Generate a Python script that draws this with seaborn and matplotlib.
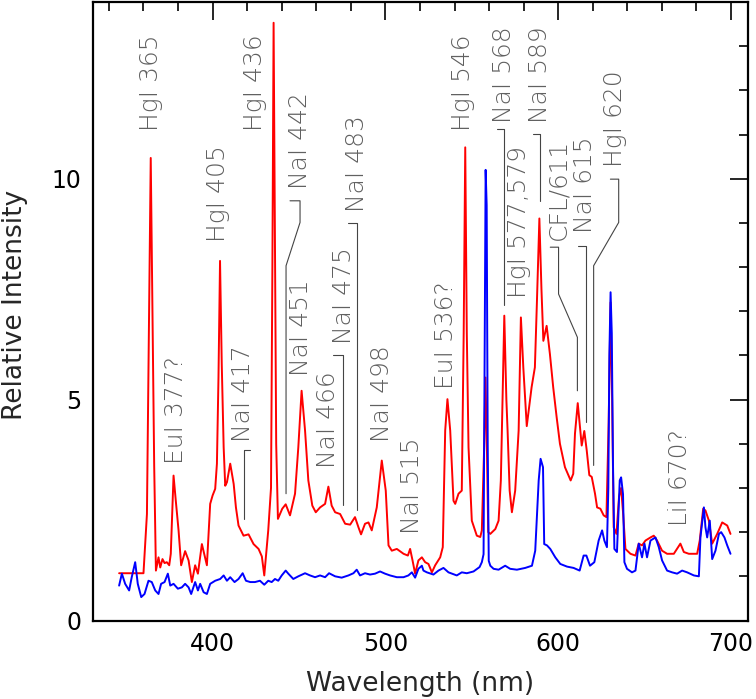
## load packages
import pandas as pd
import matplotlib
matplotlib.use("Agg")
import matplotlib.pyplot as plt
from matplotlib.ticker import MultipleLocator
import seaborn as sns

## spectrum data
red_wl = [345.9, 360.0, 361.0, 362.0, 363.0, 364.2, 365.2, 366.2, 367.2, 368.7,
          369.7, 371.0, 372.2, 373.5, 374.9, 375.8, 377.4, 378.7, 380.3, 381.8,
          384.1, 386.1, 388.0, 389.9, 391.5, 393.8, 395.2, 396.7, 398.6, 400.0,
          401.5, 402.5, 403.4, 404.3, 405.3, 406.4, 407.3, 408.3, 410.2, 412.2,
          413.5, 415.0, 417.9, 420.8, 423.7, 426.6, 428.5, 429.9, 431.0, 432.2,
          433.8, 434.6, 435.3, 436.0, 436.8, 437.8, 440.3, 442.3, 444.8, 447.7,
          449.6, 451.5, 453.5, 455.4, 457.7, 459.7, 462.2, 465.1, 467.0, 468.9,
          470.9, 473.8, 476.7, 479.6, 482.4, 484.4, 485.9, 488.2, 490.2, 492.1,
          495.0, 497.9, 500.2, 501.8, 503.7, 506.6, 510.5, 513.0, 514.3, 515.7,
          517.2, 519.1, 521.1, 523.0, 524.9, 526.9, 528.8, 531.7, 533.2, 534.6,
          535.9, 537.5, 539.4, 540.4, 542.3, 544.2, 545.3, 546.2, 547.1, 548.1,
          550.0, 552.9, 554.9, 555.8, 557.2, 557.9, 558.7, 559.5, 560.7, 563.6,
          565.5, 566.8, 567.8, 568.8, 570.0, 570.7, 571.9, 573.2, 575.1, 577.1,
          578.4, 579.8, 581.8, 584.6, 586.5, 587.7, 589.1, 590.3, 591.4, 593.3,
          595.2, 597.1, 599.1, 601.0, 603.9, 607.2, 608.7, 609.7, 611.3, 613.6,
          615.1, 616.5, 618.0, 619.4, 621.3, 622.5, 624.4, 626.3, 627.9, 629.2,
          630.3, 631.2, 632.1, 633.7, 635.2, 636.4, 637.6, 638.9, 641.8, 644.7,
          646.6, 648.5, 650.5, 653.4, 655.3, 657.2, 660.1, 663.0, 666.9, 670.7,
          672.7, 675.6, 680.4, 681.9, 683.9, 685.2, 687.2, 689.1, 692.0, 694.9,
          697.8, 699.7]
red_val = [1.07, 1.07, 1.73, 2.41, 6.0, 10.47, 7.0, 3.5, 1.13, 1.43,
           1.20, 1.39, 1.30, 1.32, 1.25, 1.51, 3.28, 2.71, 2.04, 1.25,
           1.57, 1.36, 0.87, 1.25, 1.06, 1.73, 1.50, 1.25, 2.64, 2.83,
           2.98, 3.55, 5.5, 8.14, 5.8, 3.92, 3.05, 3.13, 3.55, 3.09,
           2.56, 2.15, 1.92, 1.95, 1.73, 1.62, 1.45, 1.02, 1.5, 2.04,
           3.0, 8.0, 13.53, 9.0, 4.0, 2.30, 2.53, 2.63, 2.38, 2.87,
           3.92, 5.20, 4.30, 3.17, 2.60, 2.45, 2.56, 2.64, 3.03, 2.60,
           2.45, 2.41, 2.19, 2.17, 2.34, 2.11, 1.95, 2.19, 2.22, 2.04,
           2.56, 3.62, 2.94, 1.70, 1.58, 1.62, 1.51, 1.47, 1.62, 1.36,
           1.06, 1.36, 1.43, 1.32, 1.28, 1.09, 1.25, 1.43, 1.66, 4.30,
           5.01, 4.30, 2.71, 2.64, 2.87, 2.94, 6.5, 10.71, 6.5, 3.92,
           2.26, 1.92, 1.89, 2.04, 4.0, 5.5, 4.0, 2.0, 1.96, 2.07,
           2.26, 3.17, 5.0, 6.90, 5.0, 4.30, 2.94, 2.45, 2.94, 4.30,
           6.86, 5.73, 4.40, 5.28, 5.73, 7.24, 9.10, 7.5, 6.33, 6.67,
           6.03, 5.28, 4.60, 4.00, 3.47, 3.17, 3.32, 4.23, 4.92, 3.96,
           4.29, 3.85, 3.29, 3.25, 2.87, 2.56, 2.53, 2.38, 2.34, 4.5,
           7.2, 5.0, 2.11, 1.96, 2.8, 3.0, 2.4, 1.62, 1.51, 1.47,
           1.74, 1.70, 1.81, 1.88, 1.92, 1.81, 1.58, 1.51, 1.51, 1.74,
           1.55, 1.51, 1.51, 1.81, 2.53, 2.49, 2.26, 1.74, 1.96, 2.22,
           2.15, 1.96]

blue_wl = [345.9, 347.5, 349.4, 351.7, 353.2, 355.2, 356.7, 358.7, 360.6, 362.9,
           364.8, 366.8, 368.7, 370.2, 372.2, 374.1, 375.5, 377.4, 379.9, 382.2,
           384.1, 386.1, 387.6, 389.9, 391.5, 392.8, 394.8, 396.7, 398.6, 401.5,
           404.4, 406.4, 408.3, 410.2, 412.7, 415.0, 417.4, 419.3, 421.8, 424.5,
           427.4, 429.9, 432.2, 434.2, 436.1, 438.0, 440.0, 442.3, 443.8, 446.7,
           449.6, 453.5, 456.4, 459.3, 462.2, 465.1, 467.4, 470.9, 474.7, 478.6,
           481.5, 483.4, 485.3, 488.2, 491.1, 494.0, 496.9, 499.8, 502.7, 506.6,
           510.5, 513.3, 515.3, 517.2, 519.1, 521.1, 522.0, 524.0, 527.8, 530.7,
           533.6, 536.5, 541.3, 544.2, 547.1, 551.0, 554.5, 555.8, 556.8, 557.3,
           558.0, 558.6, 559.2, 559.8, 560.7, 562.6, 565.5, 569.3, 572.2, 576.1,
           580.9, 584.8, 586.7, 588.7, 589.8, 591.2, 591.9, 593.5, 595.4, 598.3,
           601.2, 605.1, 608.9, 612.4, 614.7, 616.3, 618.4, 620.9, 623.4, 625.4,
           626.7, 628.2, 629.0, 629.6, 630.3, 631.0, 631.7, 632.5, 634.0, 635.6,
           636.4, 637.5, 638.3, 639.8, 642.7, 644.7, 646.6, 648.5, 649.9, 651.4,
           653.4, 656.3, 658.2, 660.1, 663.0, 665.9, 668.8, 671.7, 674.6, 678.5,
           681.4, 682.3, 684.3, 685.2, 686.2, 687.7, 689.1, 691.0, 693.0, 694.3,
           696.2, 697.8, 699.7]
blue_val = [0.79, 1.06, 0.83, 0.68, 0.98, 1.32, 0.83, 0.53, 0.60, 0.90,
            0.87, 0.68, 0.60, 0.83, 0.87, 1.06, 0.79, 0.83, 0.72, 0.75,
            0.83, 0.75, 0.60, 0.87, 0.68, 0.83, 0.64, 0.60, 0.83, 0.90,
            0.94, 1.02, 0.90, 0.98, 0.87, 0.94, 1.07, 0.90, 0.87, 0.87,
            0.90, 0.81, 0.90, 0.87, 0.94, 0.90, 1.02, 1.13, 1.06, 0.94,
            1.00, 1.07, 1.02, 0.98, 1.02, 0.98, 1.07, 1.00, 0.97, 1.02,
            1.07, 1.15, 1.02, 1.07, 1.04, 1.06, 1.11, 1.06, 1.02, 0.98,
            0.98, 1.02, 1.09, 0.97, 1.17, 1.24, 1.13, 1.09, 1.04, 1.13,
            1.19, 1.09, 1.02, 1.09, 1.07, 1.11, 1.21, 1.32, 1.5, 5.0,
            10.2, 9.4, 4.0, 1.35, 1.24, 1.17, 1.15, 1.24, 1.17, 1.15,
            1.19, 1.24, 1.58, 3.17, 3.66, 3.47, 1.73, 1.70, 1.62, 1.43,
            1.28, 1.22, 1.19, 1.13, 1.47, 1.47, 1.24, 1.32, 1.81, 2.04,
            1.81, 1.66, 3.0, 6.0, 7.43, 6.5, 3.54, 1.62, 1.55, 3.17,
            3.24, 2.86, 1.32, 1.17, 1.09, 1.13, 1.74, 1.43, 1.74, 1.43,
            1.81, 1.88, 1.66, 1.36, 1.13, 1.09, 1.06, 1.13, 1.09, 1.02,
            1.00, 1.88, 2.56, 2.11, 1.88, 2.26, 1.39, 1.58, 1.96, 2.00,
            1.88, 1.70, 1.51]

## line identifications
line_names = ["HgI 365", "EuI 377?", "HgI 405", "NaI 417", "HgI 436", "NaI 442",
              "NaI 451", "NaI 466", "NaI 475", "NaI 483", "NaI 498", "NaI 515",
              "EuI 536?", "HgI 546", "NaI 568", "HgI 577,579", "NaI 589",
              "CFL/611", "NaI 615", "HgI 620", "LiI 670?"]
# where each label starts (text centre wavelength, bottom of text)
label_x = [364.1, 378.6, 403.2, 417.6, 424.5, 450.6,
           451.0, 467.0, 476.1, 483.8, 498.3, 515.2,
           535.0, 544.8, 568.8, 577.1, 589.6,
           600.1, 615.7, 633.1, 670.3]
label_y = [11.07, 3.55, 8.56, 4.03, 11.07, 9.77,
           5.54, 3.46, 6.26, 9.24, 4.05, 1.95,
           5.24, 11.09, 11.27, 7.31, 11.27,
           8.62, 8.78, 10.26, 2.15]
# leader lines from label down to the line
leaders = {
    "NaI 417": [(421.8, 3.86), (418.0, 3.86), (418.0, 2.30)],
    "NaI 442": [(444.8, 9.50), (450.6, 9.50), (450.6, 9.01), (442.5, 8.03), (442.5, 2.87)],
    "NaI 475": [(469.9, 6.00), (475.3, 6.00), (475.3, 2.62)],
    "NaI 483": [(478.4, 9.00), (483.4, 9.00), (483.4, 2.51)],
    "NaI 568": [(564.5, 11.12), (568.4, 11.12), (568.4, 7.15)],
    "NaI 589": [(585.6, 11.02), (589.2, 11.02), (589.2, 9.50)],
    "CFL/611": [(595.4, 8.45), (600.2, 8.45), (600.2, 7.39), (611.1, 6.41), (611.1, 5.20)],
    "NaI 615": [(611.6, 8.48), (616.1, 8.48), (616.1, 4.49)],
    "HgI 620": [(630.2, 9.99), (635.0, 9.99), (635.0, 9.01), (620.5, 8.03), (620.5, 3.51)],
}

red_df = pd.DataFrame({"wavelength": red_wl, "intensity": red_val})
blue_df = pd.DataFrame({"wavelength": blue_wl, "intensity": blue_val})

## set theme
sns.set_theme(style="white")
plt.rcParams["font.family"] = ["DejaVu Sans"]

fig = plt.figure(figsize=(7.56, 6.99), dpi=100)
ax = fig.add_axes([92.5 / 756, 78.5 / 699, 655.8 / 756, 618.5 / 699])

sns.lineplot(data=red_df, x="wavelength", y="intensity", color="#ff0000",
             lw=1.4, ax=ax)
sns.lineplot(data=blue_df, x="wavelength", y="intensity", color="#0000ff",
             lw=1.4, ax=ax)

## labels
for name, lx, ly in zip(line_names, label_x, label_y):
    ax.text(lx, ly, name, rotation=90, ha="center", va="bottom",
            fontsize=18, color="#606060", fontweight="light")
for name, path in leaders.items():
    ax.plot([p[0] for p in path], [p[1] for p in path], color="#444444", lw=0.8)

## axes
ax.set_xlim(330.5, 710)
ax.set_ylim(0, 14)
ax.xaxis.set_major_locator(MultipleLocator(100))
ax.xaxis.set_minor_locator(MultipleLocator(20))
ax.yaxis.set_major_locator(MultipleLocator(5))
ax.yaxis.set_minor_locator(MultipleLocator(1))
ax.tick_params(which="both", direction="in", top=True, right=True,
               colors="black", width=1.2, labelsize=17)
ax.tick_params(which="major", length=13, pad=8)
ax.tick_params(which="minor", length=6.5)
for s in ax.spines.values():
    s.set_linewidth(1.6)
    s.set_color("black")

ax.set_xlabel("Wavelength (nm)", fontsize=19)
ax.set_ylabel("Relative Intensity", fontsize=19, va="center")
ax.xaxis.set_label_coords(0.5, -0.082)
ax.yaxis.set_label_coords(-0.118, 0.51)

fig.savefig("out.png", dpi=100)
